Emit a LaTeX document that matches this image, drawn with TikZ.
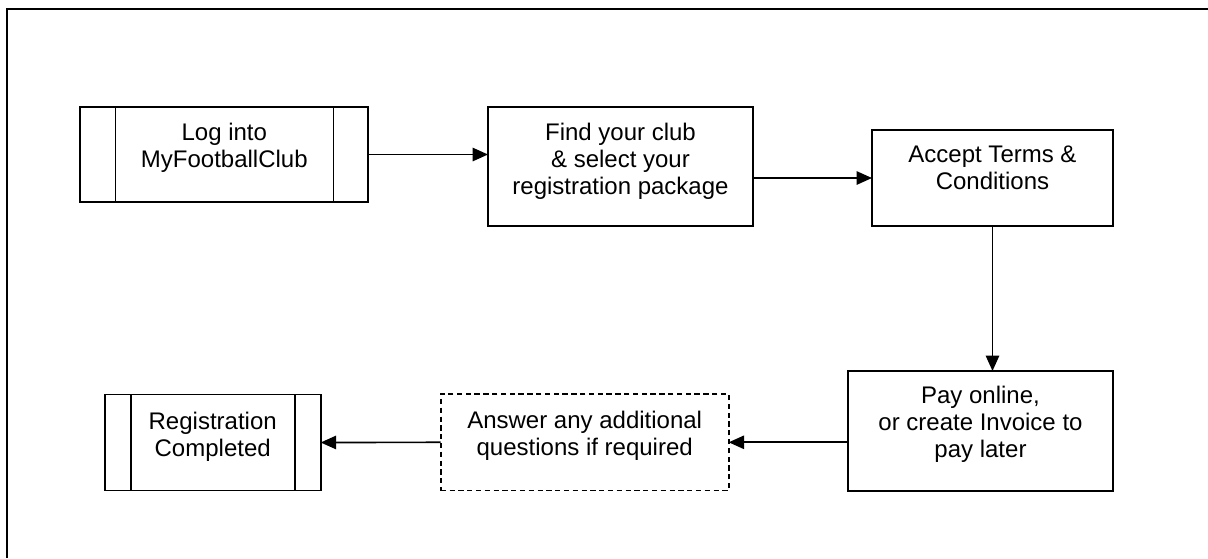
\documentclass[tikz,border=0pt]{standalone}
\usepackage{fontspec}
\setmainfont{Liberation Sans}
\usetikzlibrary{arrows.meta}
\tikzset{
  box/.style={draw=black, line width=1.25pt, inner sep=0pt, outer sep=0pt, fill=white},
  dbox/.style={box, dash pattern=on 4pt off 2.6pt},
  txt/.style={align=center, inner sep=0pt, font={\fontsize{18pt}{20.25pt}\selectfont}},
  conn/.style={line width=1.25pt, -{Triangle[length=11.5pt,width=10pt]}},
  frame/.style={line width=1.5pt},
  divider/.style={line width=1.25pt}
}
\begin{document}
\begin{tikzpicture}[x=0.75pt,y=-0.75pt]
\useasboundingbox (0,0) rectangle (1208,558);
\draw[frame] (7,558) -- (7,9) -- (1208,9);
% boxes
\node[box, minimum width=216pt, minimum height=71.25pt,
  label={[txt, anchor=north, yshift=-12pt]north:Log into\\MyFootballClub}] (b1) at (224.3,154.5) {};
\node[box, minimum width=198.75pt, minimum height=89.25pt,
  label={[txt, anchor=north, yshift=-12pt]north:Find your club\\\& select your\\registration package}] (b2) at (620.5,166.5) {};
\node[box, minimum width=180.75pt, minimum height=72pt,
  label={[txt, anchor=north, yshift=-12pt]north:Accept Terms \&\\Conditions}] (b3) at (992.5,178) {};
\node[box, minimum width=198.75pt, minimum height=90pt,
  label={[txt, anchor=north, yshift=-11.5pt]north:Pay online,\\or create Invoice to\\pay later}] (b4) at (980.5,431) {};
\node[dbox, minimum width=216pt, minimum height=72.5pt,
  label={[txt, anchor=north, yshift=-13pt]north:Answer any additional\\questions if required}] (b5) at (584.7,442.3) {};
\node[box, minimum width=162pt, minimum height=72pt,
  label={[txt, anchor=north, yshift=-13pt]north:Registration\\Completed}] (b6) at (212.7,442.5) {};
% dividers
\draw[divider] ([xshift=26.5pt]b1.north west) -- ([xshift=26.5pt]b1.south west);
\draw[divider] ([xshift=-26pt]b1.north east) -- ([xshift=-26pt]b1.south east);
\draw[divider] ([xshift=19.7pt]b6.north west) -- ([xshift=19.7pt]b6.south west);
\draw[divider] ([xshift=-19.5pt]b6.north east) -- ([xshift=-19.5pt]b6.south east);
% connectors
\draw[conn] (b1.east) -- (b1.east -| b2.west);
\draw[conn] (b3.west -| b2.east) -- (b3.west);
\draw[conn] (b3.south) -- (b3.south |- b4.north);
\draw[conn] (b5.east -| b4.west) -- (b5.east);
\draw[conn] (b5.west) -- (b6.east);
\end{tikzpicture}
\end{document}
